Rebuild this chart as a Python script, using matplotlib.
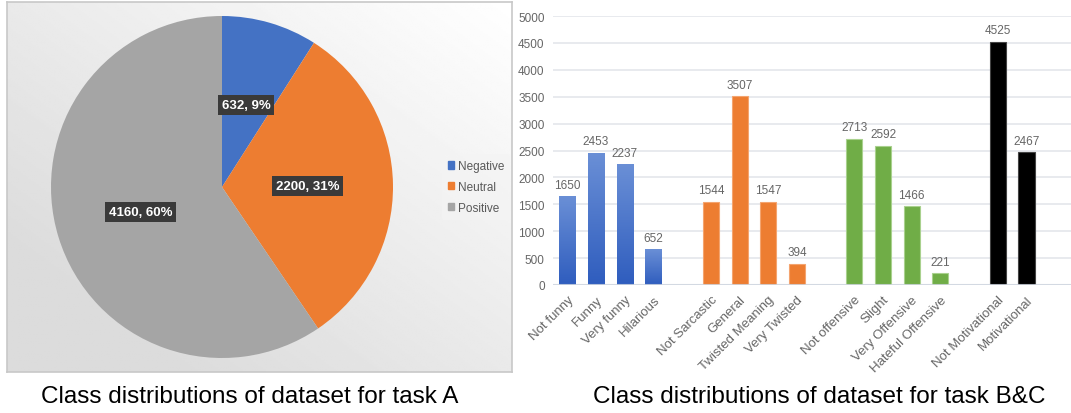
import numpy as np
import matplotlib.pyplot as plt
from matplotlib.patches import Rectangle
from matplotlib.colors import LinearSegmentedColormap

# Task A sentiment distribution
pie_labels = ["Negative", "Neutral", "Positive"]
pie_counts = [632, 2200, 4160]
pie_pcts = [9, 31, 60]
pie_colors = ["#4472C4", "#ED7D31", "#A5A5A5"]

# Task B&C class distributions
bar_labels = ["Not funny", "Funny", "Very funny", "Hilarious",
              "Not Sarcastic", "General", "Twisted Meaning", "Very Twisted",
              "Not offensive", "Slight", "Very Offensive", "Hateful Offensive",
              "Not Motivational", "Motivational"]
bar_counts = [1650, 2453, 2237, 652,
              1544, 3507, 1547, 394,
              2713, 2592, 1466, 221,
              4525, 2467]
bar_groups = [0, 0, 0, 0, 1, 1, 1, 1, 2, 2, 2, 2, 3, 3]
group_colors = ["#4472C4", "#ED7D31", "#70AD47", "#000000"]
group_edges = ["#4472C4", "#F4A46F", "#A9D18E", "#444444"]

plt.rcParams["font.family"] = ["Liberation Sans", "DejaVu Sans"]

W, H = 1071, 414
fig = plt.figure(figsize=(W / 100, H / 100), dpi=100)
fig.patch.set_facecolor("white")

# ---- left panel background (soft gradient with border)
bg = fig.add_axes([7 / W, 1 - 373 / H, 505 / W, 370 / H])
yy, xx = np.mgrid[0:1:200j, 0:1:200j]
shade = 1.0 - 0.14 * np.clip((1 - xx) * 0.6 + yy * 0.6, 0, 1)
bg.imshow(shade, cmap="gray", vmin=0, vmax=1, extent=[0, 1, 0, 1], aspect="auto")
bg.set_xticks([])
bg.set_yticks([])
for s in bg.spines.values():
    s.set_color("#C8C8C8")
    s.set_linewidth(1.2)

# ---- pie
cx, cy, r = 222, 188, 171
pax = fig.add_axes([(cx - r) / W, 1 - (cy + r) / H, 2 * r / W, 2 * r / H])
wedges, _ = pax.pie(pie_counts, colors=pie_colors, startangle=90, counterclock=False,
                    radius=1.0, wedgeprops=dict(linewidth=0))
pax.set_xlim(-1, 1)
pax.set_ylim(-1, 1)
pax.set_aspect("auto")
pax.axis("off")

for w, n, p in zip(wedges, pie_counts, pie_pcts):
    ang = np.deg2rad((w.theta1 + w.theta2) / 2)
    x, y = 0.5 * np.cos(ang), 0.5 * np.sin(ang)
    pax.text(x, y, f"{n}, {p}%", ha="center", va="center", color="white",
             fontsize=9.5, fontweight="bold",
             bbox=dict(boxstyle="square,pad=0.3", facecolor="#3A3A3A", edgecolor="none"))

handles = [Rectangle((0, 0), 1, 1, color=c) for c in pie_colors]
leg = fig.legend(handles, pie_labels, loc="center left", bbox_to_anchor=(436 / W, 1 - 188 / H),
                 frameon=True, fontsize=8.5, handlelength=0.55, handleheight=0.55,
                 handletextpad=0.3, labelspacing=0.75, borderpad=0.5)
leg.get_frame().set_facecolor("#F4F4F4")
leg.get_frame().set_edgecolor("none")
leg.get_frame().set_alpha(0.6)
for t in leg.get_texts():
    t.set_color("#595959")

# ---- bar chart
ax = fig.add_axes([553 / W, 1 - 286 / H, (W - 553) / W, (286 - 17) / H])
pos = np.array([i + g for i, g in enumerate(bar_groups)])
bw = 0.56
blue_grad = LinearSegmentedColormap.from_list("b", ["#2F5DBE", "#6A8FD6"])
for x, v, g in zip(pos, bar_counts, bar_groups):
    if g == 0:
        grad = np.linspace(0, 1, 100).reshape(-1, 1)
        ax.imshow(grad, cmap=blue_grad, extent=[x - bw / 2, x + bw / 2, 0, v],
                  aspect="auto", origin="lower", zorder=3)
    else:
        ax.bar(x, v, width=bw, color=group_colors[g], edgecolor=group_edges[g],
               linewidth=0.8, zorder=3)
    ax.annotate(str(v), (x, v), xytext=(0, 4), textcoords="offset points",
                ha="center", va="bottom", fontsize=8.5, color="#666666")

ax.set_xlim(-0.5, 17.55)
ax.set_ylim(0, 5000)
ax.set_yticks(np.arange(0, 5001, 500))
ax.yaxis.grid(True, color="#E1E4EA", linewidth=1.1)
ax.set_axisbelow(True)
for s in ax.spines.values():
    s.set_visible(False)
ax.tick_params(axis="both", length=0, colors="#666666")
ax.tick_params(axis="y", pad=6, labelsize=8.5)
ax.set_xticks(pos)
ax.set_xticklabels(bar_labels, rotation=45, ha="right", rotation_mode="anchor")
ax.tick_params(axis="x", pad=6, labelsize=9.5)
ax.axhline(0, color="#D0D6E0", linewidth=1.5, alpha=0.85, zorder=5)

# ---- captions
fig.text(250 / W, 1 - 397 / H, "Class distributions of dataset for task A", ha="center",
         va="center", fontsize=17.5)
fig.text(819 / W, 1 - 397 / H, "Class distributions of dataset for task B&C", ha="center",
         va="center", fontsize=17.5)

fig.savefig("out.png", dpi=100)
